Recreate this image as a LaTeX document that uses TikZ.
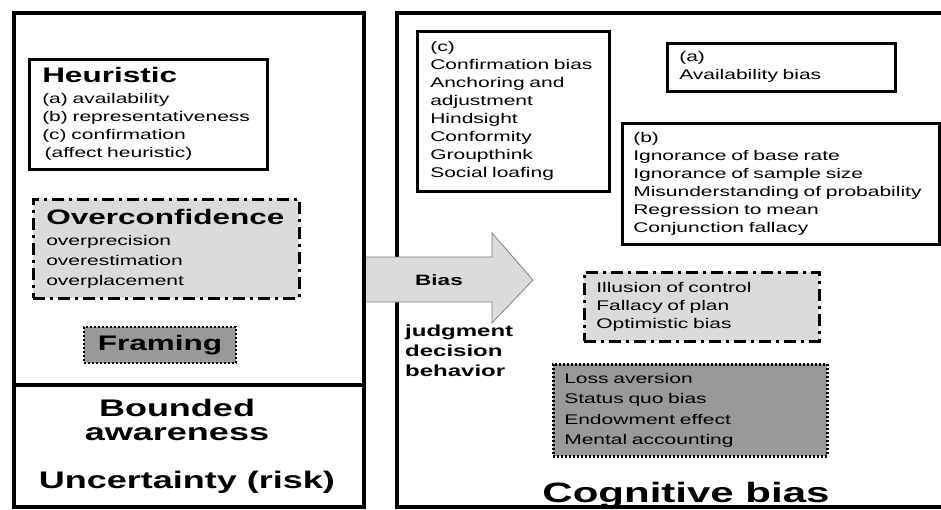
\documentclass[tikz,border=0pt]{standalone}
\usepackage{fontspec}
\setmainfont{Liberation Sans}[FakeStretch=1.5]
\usetikzlibrary{positioning}

\definecolor{lightgr}{gray}{0.86}
\definecolor{darkgr}{gray}{0.6}

\tikzset{
  outer/.style={line width=3.5pt},
  listbox/.style={draw, line width=2.5pt, anchor=north west, align=left,
    inner ysep=0pt, inner xsep=12pt, font=\fontsize{14}{18}\selectfont},
  dashdot/.style={dash pattern=on 12pt off 5pt on 3pt off 5pt},
  dots/.style={line width=2.6pt, dash pattern=on 2pt off 2pt},
  headline/.style={font=\bfseries\fontsize{21}{24}\selectfont},
  bigtext/.style={font=\bfseries\fontsize{24}{24}\selectfont, align=center}
}

\begin{document}
\begin{tikzpicture}[x=1pt, y=-1pt]
\useasboundingbox (0,0) rectangle (941,509);

% Cognitive bias frame
\draw[outer] (397,13) rectangle (945,507);

% Left side
\node[listbox, inner xsep=13pt, text width=212pt, minimum height=110pt] (heur) at (28,58)
  {{\bfseries\fontsize{21}{21}\selectfont Heuristic}\\[3pt]
   (a) availability\\ (b) representativeness\\ (c) confirmation\\ \,(affect heuristic)};
\node[listbox, dashdot, fill=lightgr, inner xsep=13pt, text width=240pt, minimum height=99pt,
  font=\fontsize{14}{20}\selectfont] (overconf) at (32,198)
  {{\bfseries\fontsize{21}{21}\selectfont Overconfidence}\\[1pt]
   overprecision\\ overestimation\\ overplacement};
\node[draw, dots, fill=darkgr, minimum width=152pt, minimum height=36pt, inner sep=0pt,
  headline] (framing) at (160,345) {Framing};

\node[bigtext] (bounded) at (177,420) {Bounded\\awareness};
\node[bigtext, anchor=base] (uncert) at (187,488) {Uncertainty (risk)};

% Right side
\node[listbox, inner xsep=13pt, text width=166pt, minimum height=160pt] (cbox) at (416,30)
  {(c)\\ Confirmation bias\\ Anchoring and\\ adjustment\\ Hindsight\\ Conformity\\
   Groupthink\\ Social loafing};
\node[listbox, text width=204pt, minimum height=48pt] (abox) at (666,42)
  {(a)\\ Availability bias};
\node[listbox, inner xsep=11pt, text width=295pt, minimum height=121pt] (bbox) at (621,122)
  {(b)\\ Ignorance of base rate\\ Ignorance of sample size\\
   Misunderstanding of probability\\ Regression to mean\\ Conjunction fallacy};
\node[listbox, dashdot, fill=lightgr, text width=211pt, minimum height=69pt] (illus) at (583,271)
  {Illusion of control\\ Fallacy of plan\\ Optimistic bias};
\node[listbox, dots, fill=darkgr, inner xsep=11pt, text width=252pt, minimum height=92pt,
  font=\fontsize{14}{20.5}\selectfont] (loss) at (552,363)
  {Loss aversion\\ Status quo bias\\ Endowment effect\\ Mental accounting};

\node[font=\bfseries\fontsize{28}{28}\selectfont, anchor=base] (cogbias) at (686,502) {Cognitive bias};

% Bias arrow
\filldraw[fill=lightgr, draw=gray, line width=0.8pt]
  (364,257) -- (492,257) -- (492,233) -- (533,280) -- (492,323) -- (492,302) -- (364,302) -- cycle;
\node[font=\bfseries\fontsize{15}{15}\selectfont] (bias) at (439,280) {Bias};
\node[anchor=north west, align=left, inner sep=0pt,
  font=\bfseries\fontsize{16}{20}\selectfont] (jdb) at (405,325)
  {judgment\\ decision\\ behavior};

% Bounded rationality frame
\draw[outer] (14,13) rectangle (364,507);
\draw[outer] (14,385) -- (364,385);
\end{tikzpicture}
\end{document}
